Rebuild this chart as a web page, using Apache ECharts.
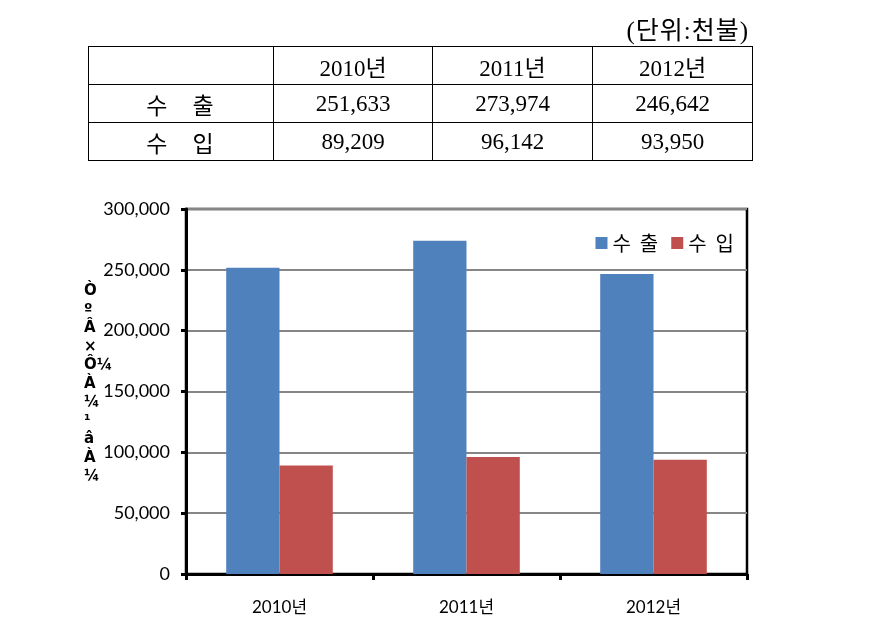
<!DOCTYPE html>
<html>
<head>
<meta charset="utf-8">
<script src="https://cdn.jsdelivr.net/npm/echarts@6/dist/echarts.min.js"></script>
<style>
  html, body { margin:0; padding:0; background:#fff; }
  #wrap { position:relative; width:875px; height:637px; }
  #chart { position:absolute; left:0; top:0; width:875px; height:637px; }
  #unit { position:absolute; right:126px; top:10px; font-family:"Liberation Serif","Noto Sans CJK KR",serif; font-size:25px; letter-spacing:1px; color:#000; }
  table { position:absolute; left:88px; top:46px; border-collapse:collapse; font-family:"Liberation Serif","Noto Sans CJK KR",serif; font-size:23px; color:#000; table-layout:fixed; }
  td { border:1.5px solid #000; text-align:center; padding:0; height:37px; }
</style>
</head>
<body>
<div id="wrap">
  <div id="chart"></div>
  <div id="unit"></div>
  <table id="tbl"></table>
</div>
<script>
const categories = ['2010년', '2011년', '2012년'];
const exportValues = [251633, 273974, 246642];
const importValues = [89209, 96142, 93950];
const seriesNames = ['수 출', '수 입'];
const unitText = '(단위:천불)';
const yAxisNameChars = ['Ò', 'º', 'Â', '×', 'Ô¼', 'À', '¼', '¹', 'â', 'À', '¼'];

// table
document.getElementById('unit').textContent = unitText;
const fmt = v => v.toLocaleString('en-US');
const colW = [184, 158, 159, 159];
let html = '<tr><td style="width:' + colW[0] + 'px"></td>';
categories.forEach((c, i) => { html += '<td style="width:' + colW[i + 1] + 'px">' + c + '</td>'; });
html += '</tr>';
[[seriesNames[0], exportValues], [seriesNames[1], importValues]].forEach(([n, vals]) => {
  html += '<tr><td style="letter-spacing:2px">' + n.replace(' ', '&nbsp;&nbsp;&nbsp;') + '</td>';
  vals.forEach(v => { html += '<td>' + fmt(v) + '</td>'; });
  html += '</tr>';
});
document.getElementById('tbl').innerHTML = html;

const chart = echarts.init(document.getElementById('chart'));
const font = 'Lato, "Noto Sans CJK KR", sans-serif';
chart.setOption({
  animation: false,
  backgroundColor: '#fff',
  grid: { left: 186, right: 128, top: 209, bottom: 63, show: true, borderColor: '#000', borderWidth: 2.5, backgroundColor: 'transparent' },
  legend: {
    right: 136, top: 228, itemWidth: 12, itemHeight: 12, itemGap: 13, icon: 'rect',
    textStyle: { fontFamily: '"Noto Sans CJK KR", sans-serif', fontSize: 20, color: '#000' },
    formatter: n => n.replace(' ', '  '),
    data: seriesNames
  },
  xAxis: {
    type: 'category', data: categories,
    axisLine: { lineStyle: { color: '#000', width: 3 } },
    axisTick: { show: true, length: 6, lineStyle: { color: '#000', width: 3 } },
    axisLabel: { color: '#000', fontFamily: font, fontSize: 17, margin: 25 }
  },
  yAxis: {
    type: 'value', min: 0, max: 300000, interval: 50000,
    axisLine: { show: true, lineStyle: { color: '#000', width: 3 } },
    axisTick: { show: true, length: 5, lineStyle: { color: '#000', width: 3 } },
    axisLabel: { color: '#000', fontFamily: font, fontSize: 18, margin: 16, formatter: v => fmt(v) },
    splitLine: { lineStyle: { color: '#868686', width: 2 } }
  },
  graphic: [{
    type: 'text', left: 84, top: 282,
    style: { text: yAxisNameChars.join('\n'), fontFamily: '"DejaVu Sans", sans-serif', fontWeight: 'bold', fontSize: 15, lineHeight: 18.5, fill: '#000', align: 'center' }
  }],
  series: [
    { name: seriesNames[0], type: 'bar', data: exportValues, barGap: '0%', barCategoryGap: '43%', itemStyle: { color: '#4F81BD' } },
    { name: seriesNames[1], type: 'bar', data: importValues, itemStyle: { color: '#C0504D' } }
  ]
});
</script>
</body>
</html>
